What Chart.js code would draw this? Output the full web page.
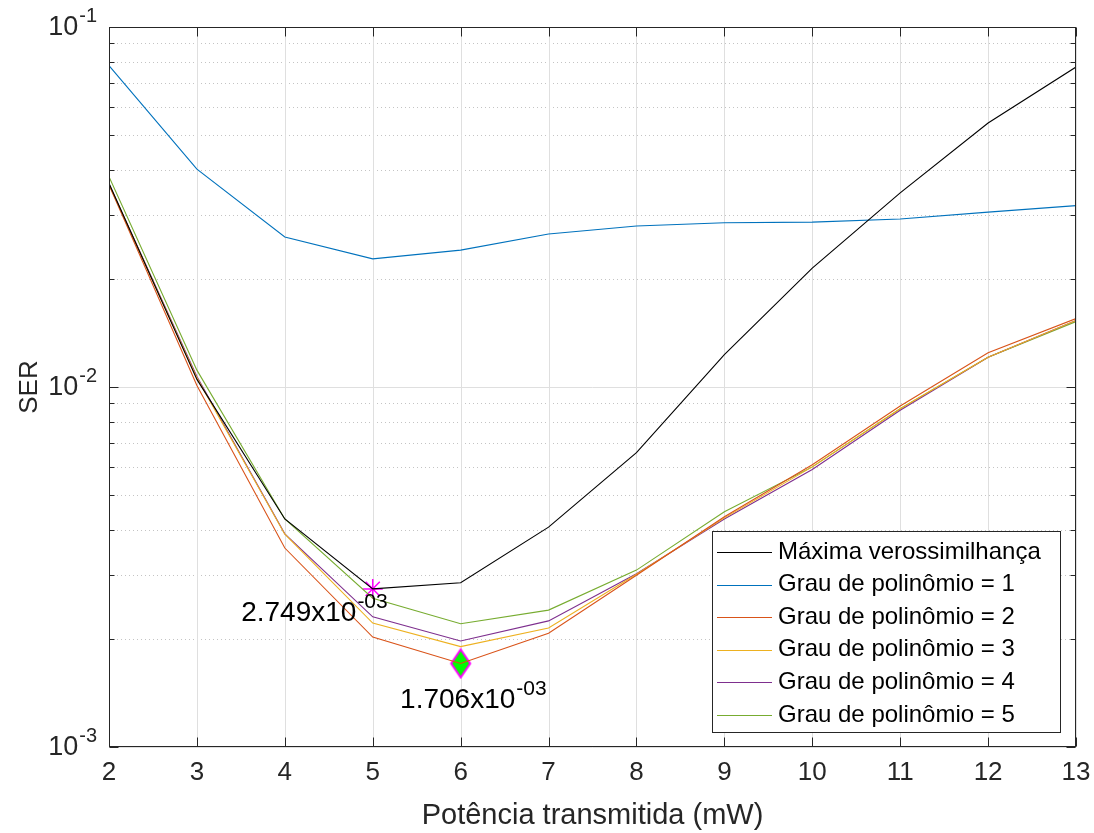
<!DOCTYPE html>
<html>
<head>
<meta charset="utf-8">
<script src="https://cdn.jsdelivr.net/npm/chart.js@4"></script>
<style>
  html, body { margin: 0; padding: 0; background: #fff; }
  #wrap { width: 1094px; height: 833px; position: relative; }
</style>
</head>
<body>
<div id="wrap"><canvas id="serChart"></canvas></div>
<script>
// power values on the x axis (mW)
var potencia = [2, 3, 4, 5, 6, 7, 8, 9, 10, 11, 12, 13];

// SER
var maxVeross = [0.0368, 0.0105, 0.0043, 0.002749, 0.00286, 0.00408, 0.00657, 0.0123, 0.0214, 0.0346, 0.0541, 0.0774];
var grau1 = [0.0781, 0.0403, 0.0261, 0.0227, 0.0240, 0.0266, 0.0280, 0.0286, 0.0287, 0.0293, 0.0306, 0.0319];
var grau2 = [0.0364, 0.0101, 0.00357, 0.00202, 0.001706, 0.00207, 0.00300, 0.00436, 0.00608, 0.00886, 0.01245, 0.01549];
var grau3 = [0.0365, 0.0106, 0.00390, 0.00221, 0.00190, 0.00214, 0.00302, 0.00433, 0.00600, 0.00870, 0.01210, 0.01530];
var grau4 = [0.0366, 0.0107, 0.00391, 0.00230, 0.00197, 0.00224, 0.00303, 0.00430, 0.00590, 0.00862, 0.01210, 0.01530];
var grau5 = [0.0384, 0.01114, 0.00430, 0.00259, 0.00220, 0.00240, 0.00310, 0.00450, 0.00600, 0.00870, 0.01210, 0.01520];

var seriesNames = ['Máxima verossimilhança', 'Grau de polinômio = 1', 'Grau de polinômio = 2',
                   'Grau de polinômio = 3', 'Grau de polinômio = 4', 'Grau de polinômio = 5'];
var seriesColors = ['#000000', '#0072BD', '#D95319', '#EDB120', '#7E2F8E', '#77AC30'];

// marked points: minimum of ML curve at 5 mW and global minimum at 6 mW
var markX = [5, 6];
var markY = [0.002749, 0.001706];

// axis ticks
var xTicks = [2, 3, 4, 5, 6, 7, 8, 9, 10, 11, 12, 13];
var yDecades = [-3, -2, -1];

var FONT = '"Liberation Sans", Arial, Helvetica, sans-serif';

function toPoints(arr) {
    return potencia.map(function (p, i) { return { x: p, y: arr[i] }; });
}

// green diamond with magenta edge
var diamond = document.createElement('canvas');
diamond.width = 24;
diamond.height = 32;
(function () {
    var c = diamond.getContext('2d');
    c.beginPath();
    c.moveTo(12, 2);
    c.lineTo(21.5, 16);
    c.lineTo(12, 30);
    c.lineTo(2.5, 16);
    c.closePath();
    c.fillStyle = '#00FF00';
    c.fill();
    c.lineWidth = 2;
    c.strokeStyle = '#FF00FF';
    c.stroke();
})();

function expLabel(v) {
    var e = v.toExponential(3).split('e');
    var ex = parseInt(e[1], 10);
    var exStr = (ex < 0 ? '-' : '') + (Math.abs(ex) < 10 ? '0' : '') + Math.abs(ex);
    return { base: e[0] + 'x10', exp: exStr };
}

// draw "base^exp" with its right edge at xRight
function drawPow(ctx, base, exp, xRight, yMid, size, expSize, rise) {
    ctx.font = expSize + 'px ' + FONT;
    var ew = ctx.measureText(exp).width;
    ctx.textBaseline = 'middle';
    ctx.textAlign = 'left';
    ctx.fillText(exp, xRight - ew, yMid - rise);
    ctx.font = size + 'px ' + FONT;
    ctx.textAlign = 'right';
    ctx.fillText(base, xRight - ew - 1, yMid);
}

var axesPlugin = {
    id: 'matlabAxes',
    beforeDatasetsDraw: function (chart) {
        var ctx = chart.ctx, a = chart.chartArea;
        var xs = chart.scales.x, ys = chart.scales.y;
        ctx.save();
        // minor y grid (dotted)
        ctx.strokeStyle = '#c4c4c4';
        ctx.lineWidth = 1;
        ctx.setLineDash([1, 3]);
        yDecades.forEach(function (d) {
            if (d === yDecades[yDecades.length - 1]) return;
            for (var m = 2; m <= 9; m++) {
                var y = Math.round(ys.getPixelForValue(m * Math.pow(10, d))) + 0.5;
                ctx.beginPath();
                ctx.moveTo(a.left, y);
                ctx.lineTo(a.right, y);
                ctx.stroke();
            }
        });
        ctx.setLineDash([]);
        // major grid
        ctx.strokeStyle = '#dfdfdf';
        xTicks.forEach(function (t) {
            var x = Math.round(xs.getPixelForValue(t)) + 0.5;
            ctx.beginPath();
            ctx.moveTo(x, a.top);
            ctx.lineTo(x, a.bottom);
            ctx.stroke();
        });
        yDecades.forEach(function (d) {
            var y = Math.round(ys.getPixelForValue(Math.pow(10, d))) + 0.5;
            ctx.beginPath();
            ctx.moveTo(a.left, y);
            ctx.lineTo(a.right, y);
            ctx.stroke();
        });
        ctx.restore();
    },
    afterDatasetsDraw: function (chart) {
        var ctx = chart.ctx, a = chart.chartArea;
        var xs = chart.scales.x, ys = chart.scales.y;
        ctx.save();
        ctx.strokeStyle = '#262626';
        ctx.lineWidth = 1;
        var L = Math.round(a.left) + 0.5, R = Math.round(a.right) - 0.5;
        var T = Math.round(a.top) + 0.5, B = Math.round(a.bottom) - 0.5;
        ctx.strokeRect(L, T, R - L, B - T);

        // ticks, pointing inwards on all four sides
        ctx.beginPath();
        xTicks.forEach(function (t) {
            var x = Math.round(xs.getPixelForValue(t)) + 0.5;
            ctx.moveTo(x, B); ctx.lineTo(x, B - 9);
            ctx.moveTo(x, T); ctx.lineTo(x, T + 9);
        });
        yDecades.forEach(function (d) {
            for (var m = 1; m <= 9; m++) {
                if (m > 1 && d === yDecades[yDecades.length - 1]) break;
                var y = Math.round(ys.getPixelForValue(m * Math.pow(10, d))) + 0.5;
                var len = m === 1 ? 9 : 5;
                ctx.moveTo(L, y); ctx.lineTo(L + len, y);
                ctx.moveTo(R, y); ctx.lineTo(R - len, y);
            }
        });
        ctx.stroke();

        // tick labels
        ctx.fillStyle = '#262626';
        ctx.font = '26px ' + FONT;
        ctx.textAlign = 'center';
        ctx.textBaseline = 'middle';
        xTicks.forEach(function (t) {
            ctx.fillText(String(t), xs.getPixelForValue(t), 773);
        });
        yDecades.forEach(function (d) {
            drawPow(ctx, '10', String(d), 97, ys.getPixelForValue(Math.pow(10, d)) + 1, 27, 20, 12);
        });

        // axis titles
        ctx.font = '29px ' + FONT;
        ctx.textAlign = 'center';
        ctx.fillText('Potência transmitida (mW)', (a.left + a.right) / 2, 816);
        ctx.save();
        ctx.translate(30, (a.top + a.bottom) / 2);
        ctx.rotate(-Math.PI / 2);
        ctx.font = '26px ' + FONT;
        ctx.fillText('SER', 0, 0);
        ctx.restore();

        // annotations of the marked points
        ctx.fillStyle = '#000';
        var s = expLabel(markY[0]);
        drawPow(ctx, s.base, s.exp, xs.getPixelForValue(markX[0]) + 15, ys.getPixelForValue(markY[0]) + 24, 28, 21, 11);
        s = expLabel(markY[1]);
        drawPow(ctx, s.base, s.exp, xs.getPixelForValue(markX[1]) + 86, ys.getPixelForValue(markY[1]) + 37, 28, 21, 11);

        // legend box
        var bx = 712.5, by = 531.5, bw = 348, bh = 201;
        ctx.fillStyle = '#fff';
        ctx.fillRect(bx, by, bw, bh);
        ctx.strokeStyle = '#262626';
        ctx.strokeRect(bx, by, bw, bh);
        ctx.font = '24px ' + FONT;
        ctx.textAlign = 'left';
        ctx.textBaseline = 'middle';
        seriesNames.forEach(function (name, i) {
            var y = 552 + i * 32.6;
            ctx.strokeStyle = seriesColors[i];
            ctx.lineWidth = 1.2;
            ctx.beginPath();
            ctx.moveTo(717, Math.round(y) + 0.5);
            ctx.lineTo(772, Math.round(y) + 0.5);
            ctx.stroke();
            ctx.fillStyle = '#000';
            ctx.fillText(name, 778, y);
        });
        ctx.restore();
    }
};

var allSeries = [maxVeross, grau1, grau2, grau3, grau4, grau5];
var datasets = allSeries.map(function (arr, i) {
    return {
        label: seriesNames[i],
        data: toPoints(arr),
        borderColor: seriesColors[i],
        backgroundColor: seriesColors[i],
        borderWidth: 1.1,
        pointRadius: 0,
        tension: 0,
        fill: false
    };
});
datasets.push({
    label: 'mark1',
    data: [{ x: markX[0], y: markY[0] }],
    showLine: false,
    pointStyle: 'star',
    pointRadius: 10,
    borderColor: '#FF00FF',
    backgroundColor: '#FF00FF',
    borderWidth: 1.5
});
datasets.push({
    label: 'mark2',
    data: [{ x: markX[1], y: markY[1] }],
    showLine: false,
    pointStyle: diamond,
    pointRadius: 12
});

var ctx = document.getElementById('serChart').getContext('2d');
var serChart = new Chart(ctx, {
    type: 'line',
    data: { datasets: datasets },
    options: {
        responsive: true,
        maintainAspectRatio: false,
        animation: false,
        layout: { padding: { left: 109, right: 18, top: 27, bottom: 86 } },
        plugins: { legend: { display: false }, tooltip: { enabled: false } },
        scales: {
            x: { type: 'linear', min: 2, max: 13, display: false },
            y: { type: 'logarithmic', min: 0.001, max: 0.1, display: false }
        }
    },
    plugins: [axesPlugin]
});
</script>
</body>
</html>
